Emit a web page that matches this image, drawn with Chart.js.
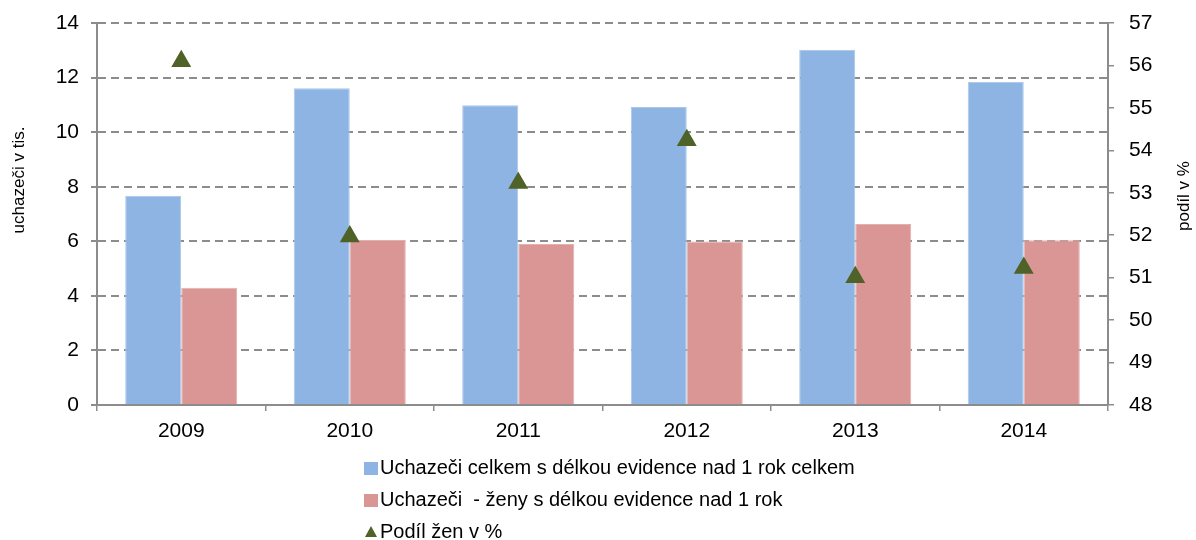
<!DOCTYPE html>
<html>
<head>
<meta charset="utf-8">
<script src="https://cdn.jsdelivr.net/npm/chart.js@4/dist/chart.umd.min.js"></script>
<style>
  html, body { margin: 0; padding: 0; background: #fff; }
  #wrap { position: relative; width: 1196px; height: 540px; }
  #legend { position: absolute; left: 364px; top: 451px; font: 20px "Liberation Sans", Arial, sans-serif; color: #000; }
  #legend div { height: 32px; line-height: 32px; white-space: pre; }
  .box { display: inline-block; width: 14px; height: 13px; margin-right: 2px; vertical-align: -1px; }
  .tri { display: inline-block; width: 0; height: 0; margin: 0 3px 0 1px; vertical-align: 1px;
         border-left: 6px solid transparent; border-right: 6px solid transparent; border-bottom: 11px solid #4F6228; }
</style>
</head>
<body>
<div id="wrap">
  <canvas id="chart" width="1196" height="540"></canvas>
  <div id="legend"></div>
</div>
<script>
const years = ['2009', '2010', '2011', '2012', '2013', '2014'];
const totalLongTerm = [7.67, 11.61, 10.99, 10.92, 13.02, 11.85];
const womenLongTerm = [4.30, 6.05, 5.90, 5.99, 6.63, 6.04];
const womenShare = [56.10, 51.97, 53.23, 54.24, 51.01, 51.23];

const seriesNames = [
  'Uchazeči celkem s délkou evidence nad 1 rok celkem',
  'Uchazeči  - ženy s délkou evidence nad 1 rok',
  'Podíl žen v %'
];
const leftTitle = 'uchazeči v tis.';
const rightTitle = 'podíl v %';

const blue = '#8EB4E3';
const pink = '#D99694';
const green = '#4F6228';
const axisGray = '#8c8c8c';
const fontFamily = '"Liberation Sans", Arial, sans-serif';

// axis titles drawn by hand so both read bottom-to-top like the original
const axisTitles = {
  id: 'axisTitles',
  afterDraw(chart) {
    const ctx = chart.ctx;
    [[leftTitle, 19, 180], [rightTitle, 1184, 196]].forEach(([txt, x, y]) => {
      ctx.save();
      ctx.font = '17px ' + fontFamily;
      ctx.fillStyle = '#000';
      ctx.textAlign = 'center';
      ctx.textBaseline = 'middle';
      ctx.translate(x, y);
      ctx.rotate(-Math.PI / 2);
      ctx.fillText(txt, 0, 0);
      ctx.restore();
    });
  }
};

// fixed axis sizes so the plot area sits where the original's does
const fitVertical = w => s => { s.width = w; s.paddingTop = 0; s.paddingBottom = 0; };

const chart = new Chart(document.getElementById('chart'), {
  type: 'bar',
  data: {
    labels: years,
    datasets: [
      {
        type: 'line',
        label: seriesNames[2],
        data: womenShare,
        yAxisID: 'y2',
        showLine: false,
        pointStyle: 'triangle',
        pointRadius: 10,
        pointBackgroundColor: green,
        pointBorderColor: green,
        pointBorderWidth: 1.5,
        order: 0
      },
      {
        label: seriesNames[0],
        data: totalLongTerm,
        backgroundColor: blue,
        borderColor: '#a9c6ea',
        borderWidth: 1,
        yAxisID: 'y',
        order: 1
      },
      {
        label: seriesNames[1],
        data: womenLongTerm,
        backgroundColor: pink,
        borderColor: '#e3b0ae',
        borderWidth: 1,
        yAxisID: 'y',
        order: 1
      }
    ]
  },
  options: {
    responsive: false,
    animation: false,
    layout: { padding: { left: 0, right: 0, top: 23, bottom: 95 } },
    datasets: { bar: { categoryPercentage: 0.665, barPercentage: 1 } },
    plugins: { legend: { display: false }, tooltip: { enabled: false } },
    scales: {
      x: {
        afterFit: s => { s.height = 40; s.paddingLeft = 0; s.paddingRight = 0; },
        grid: { display: true, drawOnChartArea: false, offset: true, color: axisGray, lineWidth: 1.5, tickLength: 6 },
        border: { color: axisGray, width: 2 },
        ticks: { color: '#000', font: { size: 21, family: fontFamily }, padding: 8 }
      },
      y: {
        position: 'left',
        min: 0,
        max: 14,
        afterFit: fitVertical(97),
        ticks: { stepSize: 2, color: '#000', font: { size: 21, family: fontFamily }, padding: 12 },
        grid: { color: axisGray, lineWidth: 2, tickLength: 6, tickBorderDash: [] },
        border: { color: axisGray, width: 2, dash: [8, 5] }
      },
      y2: {
        position: 'right',
        min: 48,
        max: 57,
        afterFit: fitVertical(88),
        ticks: { stepSize: 1, color: '#000', font: { size: 21, family: fontFamily }, padding: 15 },
        grid: { drawOnChartArea: false, color: axisGray, lineWidth: 1.5, tickLength: 6 },
        border: { color: axisGray, width: 2 }
      }
    }
  },
  plugins: [axisTitles]
});

// legend in the original's vertical layout
const legend = document.getElementById('legend');
[[0, 'box', blue], [1, 'box', pink], [2, 'tri', green]].forEach(([i, kind, col]) => {
  const row = document.createElement('div');
  const mark = document.createElement('span');
  mark.className = kind;
  if (kind === 'box') mark.style.background = col;
  row.appendChild(mark);
  row.appendChild(document.createTextNode(seriesNames[i]));
  legend.appendChild(row);
});
</script>
</body>
</html>
